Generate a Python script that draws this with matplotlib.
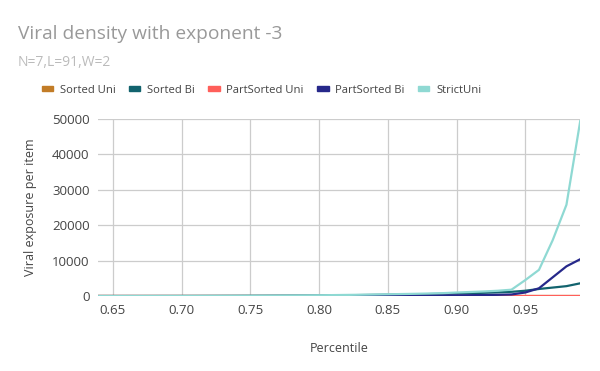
import numpy as np
import matplotlib
matplotlib.use('Agg')
import matplotlib.pyplot as plt

plt.rcParams['font.family'] = ['Open Sans', 'DejaVu Sans']

# percentiles 0.64 .. 0.99
percentile = [0.64, 0.65, 0.66, 0.67, 0.68, 0.69, 0.70, 0.71, 0.72, 0.73, 0.74, 0.75,
              0.76, 0.77, 0.78, 0.79, 0.80, 0.81, 0.82, 0.83, 0.84, 0.85, 0.86, 0.87,
              0.88, 0.89, 0.90, 0.91, 0.92, 0.93, 0.94, 0.95, 0.96, 0.97, 0.98, 0.99]

sorted_uni = [0] * 36
sorted_bi = [5, 8, 10, 12, 15, 20, 25, 30, 40, 50, 60, 75,
             90, 110, 130, 150, 180, 210, 240, 280, 330, 380, 430, 490,
             560, 640, 720, 820, 920, 1050, 1200, 1500, 2000, 2400, 2800, 3600]
part_sorted_uni = [0] * 36
part_sorted_bi = [0, 0, 0, 0, 0, 0, 0, 0, 0, 0, 0, 0,
                  5, 10, 15, 20, 30, 40, 50, 60, 75, 90, 110, 130,
                  150, 180, 210, 250, 290, 350, 450, 1000, 2200, 5300, 8400, 10400]
strict_uni = [10, 12, 15, 18, 22, 27, 33, 40, 50, 60, 75, 90,
              110, 130, 160, 190, 230, 270, 320, 370, 430, 500, 570, 640,
              720, 820, 1000, 1150, 1300, 1500, 1800, 4500, 7400, 15800, 25800, 49400]

series = [
    ('Sorted Uni', sorted_uni, '#c27c27'),
    ('Sorted Bi', sorted_bi, '#12636e'),
    ('PartSorted Uni', part_sorted_uni, '#ff5f5a'),
    ('PartSorted Bi', part_sorted_bi, '#26288a'),
    ('StrictUni', strict_uni, '#8fd9d3'),
]

fig = plt.figure(figsize=(6, 3.71), dpi=100)
ax = fig.add_axes([0.163, 0.202, 0.804, 0.477])

for name, vals, col in series:
    ax.plot(percentile, vals, color=col, linewidth=1.6, label=name)

ax.set_xlim(0.639, 0.99)
ax.set_ylim(0, 50000)
ax.set_xticks([0.65, 0.70, 0.75, 0.80, 0.85, 0.90, 0.95])
ax.set_xticklabels(['0.65', '0.70', '0.75', '0.80', '0.85', '0.90', '0.95'])
ax.set_yticks([0, 10000, 20000, 30000, 40000, 50000])
ax.grid(True, color='#cccccc', linewidth=0.9)
ax.set_axisbelow(True)
for s in ax.spines.values():
    s.set_visible(False)
ax.tick_params(length=0, labelsize=9.5, colors='#444444', pad=6)
ax.set_xlabel('Percentile', fontsize=9, color='#444444', labelpad=18)
ax.set_ylabel('Viral exposure per item', fontsize=9, color='#444444', labelpad=11)

fig.text(0.03, 0.895, 'Viral density with exponent -3', fontsize=13.8, color='#999999')
fig.text(0.03, 0.822, 'N=7,L=91,W=2', fontsize=10, color='#bbbbbb')

handles = [plt.Rectangle((0, 0), 1, 1, color=c) for _, _, c in series]
fig.legend(handles, [n for n, _, _ in series], loc='center', bbox_to_anchor=(0.436, 0.757),
           ncol=5, frameon=False, fontsize=8.1, handlelength=1.0, handleheight=0.3,
           handletextpad=0.6, columnspacing=1.2, labelcolor='#444444')

fig.savefig('out.png', dpi=100)
